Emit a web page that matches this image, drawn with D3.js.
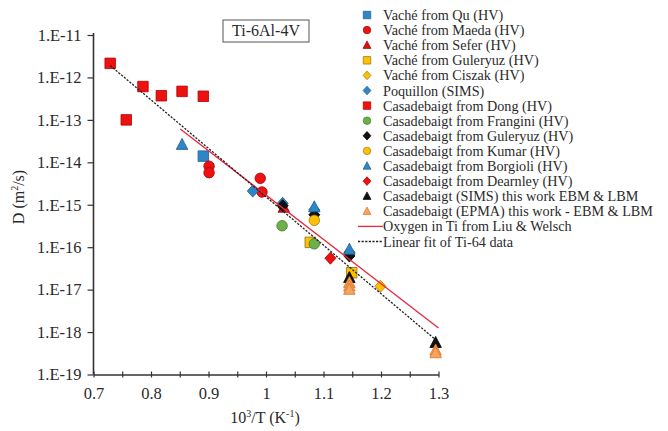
<!DOCTYPE html>
<html>
<head>
<meta charset="utf-8">
<script src="https://cdn.jsdelivr.net/npm/d3@7"></script>
<style>
  html, body { margin: 0; padding: 0; background: #fff; }
  svg { display: block; }
</style>
</head>
<body>
<svg id="chart" width="668" height="431" font-family="Liberation Serif"></svg>
<script>
// Diffusion coefficient data, [10^3/T (K^-1), D (m^2/s)]
const vacheQu        = [[0.891, 1.4e-14]];
const vacheMaeda     = [[0.901, 8.1e-15], [0.901, 5.7e-15], [0.990, 4.2e-15], [0.993, 2.0e-15]];
const vacheSefer     = [[1.031, 8.6e-16]];
const vacheGuleryuz  = [[1.077, 1.3e-16], [1.149, 2.5e-17]];
const vacheCiszak    = [[1.199, 1.2e-17]];
const poquillon      = [[0.977, 2.1e-15], [1.029, 1.08e-15], [1.084, 7.6e-16], [1.145, 7.6e-17]];
const casDong        = [[0.729, 2.15e-12], [0.757, 1.0e-13], [0.786, 6.1e-13], [0.818, 3.7e-13], [0.854, 4.7e-13], [0.891, 3.6e-13]];
const casFrangini    = [[1.028, 3.2e-16], [1.084, 1.2e-16], [1.145, 6.9e-17]];
const casGuleryuz    = [[1.029, 9.5e-16], [1.084, 5.8e-16], [1.145, 6.2e-17]];
const casKumar       = [[1.084, 4.3e-16]];
const casBorgioli    = [[0.854, 2.6e-14], [1.084, 8.8e-16], [1.145, 8.8e-17]];
const casDearnley    = [[1.112, 5.5e-17]];
const casSims        = [[1.145, 1.9e-17], [1.295, 5.6e-19]];
const casEpma        = [[1.145, 1.45e-17], [1.145, 1.2e-17], [1.145, 1.0e-17], [1.295, 3.7e-19], [1.295, 3.2e-19]];

// Arrhenius lines (end points)
const liuWelsch      = [[0.851, 6.1e-14], [1.300, 1.24e-18]];
const linearFit      = [[0.729, 1.91e-12], [1.295, 6.6e-19]];

// Axis ticks
const yTickValues = [1e-11, 1e-12, 1e-13, 1e-14, 1e-15, 1e-16, 1e-17, 1e-18, 1e-19];
const yTickLabels = ["1.E-11", "1.E-12", "1.E-13", "1.E-14", "1.E-15", "1.E-16", "1.E-17", "1.E-18", "1.E-19"];
const xTickValues = [0.7, 0.75, 0.8, 0.85, 0.9, 0.95, 1.0, 1.05, 1.1, 1.15, 1.2, 1.25, 1.3];
const xTickLabels = ["0.7", "", "0.8", "", "0.9", "", "1", "", "1.1", "", "1.2", "", "1.3"];

// Series in drawing / legend order
const series = [
  { name: "Vaché from Qu (HV)",                        data: vacheQu,       shape: "square",   fill: "#2E86C8", stroke: "#1F5E8C" },
  { name: "Vaché from Maeda (HV)",                     data: vacheMaeda,    shape: "circle",   fill: "#EE1111", stroke: "#A00000" },
  { name: "Vaché from Sefer (HV)",                     data: vacheSefer,    shape: "triangle", fill: "#DD1111", stroke: "#8A0000" },
  { name: "Vaché from Guleryuz (HV)",                  data: vacheGuleryuz, shape: "square",   fill: "#FFC000", stroke: "#8A7020" },
  { name: "Vaché from Ciszak (HV)",                    data: vacheCiszak,   shape: "diamond",  fill: "#FFC000", stroke: "#9A7A20" },
  { name: "Poquillon (SIMS)",                          data: poquillon,     shape: "diamond",  fill: "#2E86C8", stroke: "#1F5E8C" },
  { name: "Casadebaigt from Dong (HV)",                data: casDong,       shape: "square",   fill: "#EE1111", stroke: "#B00000" },
  { name: "Casadebaigt from Frangini (HV)",            data: casFrangini,   shape: "circle",   fill: "#6DB04A", stroke: "#3F7A2A" },
  { name: "Casadebaigt from Guleryuz (HV)",            data: casGuleryuz,   shape: "diamond",  fill: "#111111", stroke: "#000000" },
  { name: "Casadebaigt from Kumar (HV)",               data: casKumar,      shape: "circle",   fill: "#FFC000", stroke: "#9A7A20" },
  { name: "Casadebaigt from Borgioli (HV)",            data: casBorgioli,   shape: "triangle", fill: "#2E86C8", stroke: "#1F5E8C" },
  { name: "Casadebaigt from Dearnley (HV)",            data: casDearnley,   shape: "diamond",  fill: "#EE1111", stroke: "#A00000" },
  { name: "Casadebaigt (SIMS) this work EBM & LBM",    data: casSims,       shape: "triangle", fill: "#111111", stroke: "#000000" },
  { name: "Casadebaigt (EPMA) this work - EBM & LBM",  data: casEpma,       shape: "triangle", fill: "#F4A460", stroke: "#E07020" }
];

const lines = [
  { name: "Oxygen in Ti from Liu & Welsch", data: liuWelsch, color: "#E8283C", dash: null, width: 1.3 },
  { name: "Linear fit of Ti-64 data",      data: linearFit, color: "#222222", dash: "2.2,1.4", width: 1.3 }
];

const FONT = "Liberation Serif";
const svg = d3.select("#chart");
const textColor = "#2a2a2a";

const x = d3.scaleLinear().domain([0.7, 1.3]).range([93.5, 438.5]);
const y = d3.scaleLog().domain([1e-19, 1e-11]).range([374.5, 35]);

// Marker path generator, centred on 0,0
function markerPath(shape, s) {
  const h = s / 2;
  if (shape === "square") return `M${-h},${-h}H${h}V${h}H${-h}Z`;
  if (shape === "diamond") return `M0,${-h * 1.15}L${h * 1.05},0L0,${h * 1.15}L${-h * 1.05},0Z`;
  if (shape === "triangle") return `M0,${-h * 1.15}L${h * 1.05},${h * 0.85}L${-h * 1.05},${h * 0.85}Z`;
  return d3.arc()({ innerRadius: 0, outerRadius: h, startAngle: 0, endAngle: 2 * Math.PI });
}
const markerSize = { square: 10.5, circle: 10.5, diamond: 10.5, triangle: 11 };

// Axes
const yAxis = d3.axisLeft(y)
  .tickValues(yTickValues)
  .tickFormat((d, i) => yTickLabels[i])
  .tickSize(6)
  .tickSizeOuter(0)
  .tickPadding(6);
const gy = svg.append("g").attr("transform", `translate(${x(0.7)},0)`).call(yAxis);
gy.select(".domain").attr("d", `M0,${y(1e-11) - 2}V${y(1e-19)}`);

const xAxis = d3.axisBottom(x)
  .tickValues(xTickValues)
  .tickFormat((d, i) => xTickLabels[i])
  .tickSize(3)
  .tickSizeOuter(0)
  .tickPadding(10);
const gx = svg.append("g").attr("transform", `translate(0,${y(1e-19)})`).call(xAxis);
gx.selectAll(".tick line").attr("y1", -3).attr("y2", 3);

[gx, gy].forEach(g => {
  g.attr("font-family", FONT).attr("font-size", 16.5);
  g.select(".domain").attr("stroke", "#333").attr("stroke-width", 1.6);
  g.selectAll(".tick line").attr("stroke", "#333").attr("stroke-width", 1.2);
  g.selectAll(".tick text").attr("fill", textColor);
});

// Axis titles
svg.append("text")
  .attr("transform", "translate(24,197) rotate(-90)")
  .attr("text-anchor", "middle")
  .attr("fill", textColor)
  .attr("font-family", FONT)
  .attr("font-size", 16)
  .call(t => {
    t.append("tspan").text("D (m");
    t.append("tspan").attr("font-size", 10).attr("dy", -6).text("2");
    t.append("tspan").attr("dy", 6).text("/s)");
  });

svg.append("text")
  .attr("x", 265).attr("y", 423)
  .attr("text-anchor", "middle")
  .attr("fill", textColor)
  .attr("font-family", FONT)
  .attr("font-size", 16)
  .call(t => {
    t.append("tspan").text("10");
    t.append("tspan").attr("font-size", 10).attr("dy", -6).text("3");
    t.append("tspan").attr("dy", 6).text("/T (K");
    t.append("tspan").attr("font-size", 10).attr("dy", -6).text("-1");
    t.append("tspan").attr("dy", 6).text(")");
  });

// Title box
svg.append("rect")
  .attr("x", 223).attr("y", 20).attr("width", 86).attr("height", 22)
  .attr("fill", "#fff").attr("stroke", "#555").attr("stroke-width", 1);
svg.append("text")
  .attr("x", 266).attr("y", 36)
  .attr("text-anchor", "middle")
  .attr("fill", textColor)
  .attr("font-family", FONT)
  .attr("font-size", 16)
  .text("Ti-6Al-4V");

// Data markers
const plot = svg.append("g");
series.forEach(s => {
  plot.append("g").selectAll("path")
    .data(s.data)
    .join("path")
    .attr("transform", d => `translate(${x(d[0])},${y(d[1])})`)
    .attr("d", markerPath(s.shape, markerSize[s.shape]))
    .attr("fill", s.fill)
    .attr("stroke", s.stroke)
    .attr("stroke-width", 0.8);
});

// Fitted lines
const lineGen = d3.line().x(d => x(d[0])).y(d => y(d[1]));
lines.forEach(l => {
  plot.append("path")
    .attr("d", lineGen(l.data))
    .attr("fill", "none")
    .attr("stroke", l.color)
    .attr("stroke-width", l.width)
    .attr("stroke-dasharray", l.dash);
});

// Legend
const legend = svg.append("g").attr("transform", "translate(367,15)")
  .attr("font-family", FONT).attr("font-size", 14.2);
const rowH = 15.1;
series.forEach((s, i) => {
  const g = legend.append("g").attr("transform", `translate(0,${i * rowH})`);
  g.append("path")
    .attr("d", markerPath(s.shape, 7.5))
    .attr("fill", s.fill)
    .attr("stroke", s.stroke)
    .attr("stroke-width", 0.7);
  g.append("text")
    .attr("x", 16).attr("y", 5)
    .attr("fill", textColor)
    .text(s.name);
});
lines.forEach((l, j) => {
  const g = legend.append("g").attr("transform", `translate(0,${(series.length + j) * rowH})`);
  g.append("line")
    .attr("x1", -9).attr("x2", 16).attr("y1", 0).attr("y2", 0)
    .attr("stroke", l.color)
    .attr("stroke-width", l.width)
    .attr("stroke-dasharray", l.dash);
  g.append("text")
    .attr("x", 16).attr("y", 5)
    .attr("fill", textColor)
    .text(l.name);
});
</script>
</body>
</html>
